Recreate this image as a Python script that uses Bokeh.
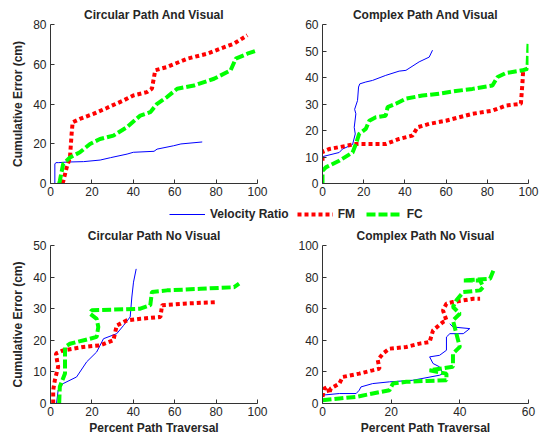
from bokeh.plotting import figure
from bokeh.layouts import column, row
from bokeh.models import FixedTicker, Legend, LegendItem, Range1d
from bokeh.embed import file_html
from bokeh.resources import INLINE

# ---------------- data ----------------
titles = ["Circular Path And Visual", "Complex Path And Visual",
          "Circular Path No Visual", "Complex Path No Visual"]
series_names = ["Velocity Ratio", "FM", "FC"]

# Circular Path And Visual
cav_vr_x = [2.1, 2.1, 2.6, 4, 8, 16, 24, 29, 37, 40, 50, 51.5, 59.5, 63, 73.3]
cav_vr_y = [0, 9.8, 10.5, 10.5, 10.8, 11.0, 11.8, 13.0, 14.8, 15.7, 16.2, 17.3, 19.0, 19.9, 20.9]
cav_fm_x = [5.8, 6.2, 7.8, 9.4, 10.2, 10.7, 14.2, 20.7, 27.2, 35.3, 40, 46.6, 49, 50.6, 56.3, 66, 75.7, 82.2, 88.7, 95.1]
cav_fm_y = [0, 1.3, 8, 13, 25, 30.8, 32.5, 35, 38, 41.8, 44.3, 46, 47.7, 57, 58.6, 62.8, 65.3, 67.9, 70.4, 74.6]
cav_fc_x = [4.2, 4.5, 6.1, 9.4, 14.2, 19.1, 23.9, 30.4, 36.9, 43.4, 48.2, 51.5, 56.3, 61.2, 69.3, 79, 87, 89.5, 95.1, 100]
cav_fc_y = [0, 1.3, 9.8, 13.1, 15.7, 19.9, 22.4, 24.1, 28.3, 34.2, 35.9, 40.1, 43.5, 47.7, 49.3, 52.7, 56.9, 62.8, 65.3, 67]

# Complex Path And Visual
xav_vr_x = [0, 0.3, 8.1, 9.7, 14.6, 15.9, 15.4, 16.2, 15.6, 17.0, 17.5, 18.1, 21, 24.3, 30.7, 37.2, 40.5, 46.9, 51.8, 53.4]
xav_vr_y = [9.6, 10.2, 11.7, 13.0, 14.7, 18.7, 21.2, 26.3, 28.0, 31.3, 36.4, 37.6, 38.3, 38.9, 40.8, 42.4, 42.7, 45.9, 47.7, 50.3]
xav_fm_x = [0, 0, 3.2, 16.2, 24.3, 30.7, 37.2, 43.7, 46.1, 51.8, 59.9, 66.3, 72.8, 82.5, 89, 96.3, 97.1, 97.4]
xav_fm_y = [8.6, 12.0, 13.0, 14.9, 14.9, 14.9, 16.8, 18.1, 21.2, 22.5, 23.7, 25.0, 26.3, 27.5, 29.4, 30.1, 38.3, 42.7]
xav_fc_x = [0, 0, 1.6, 8.1, 14.6, 16.2, 17.8, 21, 22.7, 25.9, 30.7, 31.6, 35.6, 40.5, 48.5, 56.6, 64.7, 72.8, 82.5, 85, 89, 97.1, 99.5, 100]
xav_fc_y = [0, 4.8, 6.1, 8.6, 11.7, 14.9, 18.7, 20.6, 23.7, 25.0, 25.6, 28.8, 30.1, 32.0, 33.2, 33.9, 34.9, 35.7, 37.0, 40.2, 41.7, 42.7, 43.3, 52.8]

# Circular Path No Visual
cnv_vr_x = [2.9, 3.7, 6.1, 12.6, 17.5, 22.3, 25.6, 32, 35.3, 38.5, 39.3, 40.1, 41.4]
cnv_vr_y = [0, 4.2, 6.3, 8.4, 13.2, 16.3, 20.5, 22.1, 24.7, 27.4, 33.7, 38.4, 42.6]
cnv_fm_x = [1.3, 1.3, 2.1, 3.7, 2.6, 6.1, 15.9, 23.9, 30.4, 32, 36.9, 43.4, 53.1, 53.9, 64.4, 80.6]
cnv_fm_y = [0, 4.2, 7.4, 11.6, 15.8, 16.8, 17.9, 18.4, 20.0, 24.7, 26.3, 26.8, 27.4, 31.1, 31.6, 32.1]
cnv_fc_x = [4.2, 4.5, 7.0, 7.0, 9.4, 19.1, 22.3, 23.1, 22.3, 19.1, 19.9, 30.4, 43.4, 48.2, 49.0, 56.3, 72.5, 88.7, 91.1]
cnv_fc_y = [0, 5.3, 9.5, 17.9, 18.9, 20.5, 21.1, 24.2, 26.8, 28.4, 29.5, 29.7, 30.0, 31.1, 35.3, 35.8, 36.3, 36.8, 37.9]

# Complex Path No Visual
xnv_vr_x = [0, 4.9, 9.8, 10.7, 11.2, 14.6, 19.5, 26.3, 34.1, 35.1, 34.1, 32.2, 31.2, 34.1, 36.1, 36.1, 37.1, 41, 42.9, 38, 37.1]
xnv_vr_y = [5.3, 6.3, 6.3, 8.4, 10.5, 12.6, 13.7, 14.7, 17.9, 18.9, 23.2, 25.3, 29.5, 30.5, 33.7, 42.1, 44.2, 44.2, 47.4, 48.4, 50.5]
xnv_fm_x = [0, 0.5, 1.5, 2.0, 2.4, 4.9, 5.9, 10.7, 14.6, 16.6, 16.1, 17.6, 19.5, 24.4, 28.3, 31.2, 32.2, 35.1, 36.1, 35.1, 36.1, 38, 43.9, 45.9]
xnv_fm_y = [4.2, 9.5, 10.5, 6.3, 9.5, 12.6, 16.8, 18.9, 21.0, 22.1, 27.4, 31.6, 34.7, 35.8, 37.9, 38.9, 46.3, 51.6, 52.6, 58.9, 63.2, 64.2, 66.3, 66.3]
xnv_fc_x = [0, 4.9, 9.8, 14.6, 19.5, 20.5, 24.4, 30.2, 36.1, 36.1, 31.2, 38, 38, 40, 39, 38, 40, 38, 39, 41, 45.9, 46.8, 45.9, 41, 48.8, 49.8]
xnv_fc_y = [2.1, 3.2, 4.2, 6.3, 8.4, 12.6, 13.7, 14.3, 14.7, 18.9, 21.0, 23.2, 31.6, 35.8, 44.2, 52.6, 56.8, 61.1, 65.3, 70.5, 71.6, 73.7, 77.9, 77.9, 78.9, 84.2]

FONT = "Liberation Sans"
TXT = "#262626"
AX = "#333333"

def make_panel(title, xr, yr, xticks, yticks, data, w, h, mb_top, mb_bottom, xlabel=None, ylabel=None):
    p = figure(width=w, height=h, output_backend="svg", toolbar_location=None,
               x_range=Range1d(*xr), y_range=Range1d(*yr),
               min_border_left=50, min_border_right=15,
               min_border_top=mb_top, min_border_bottom=mb_bottom)
    p.title.text = title
    p.title.align = "center"
    p.title.text_font = FONT
    p.title.text_font_size = "12px"
    p.title.text_font_style = "bold"
    p.title.text_color = TXT
    p.title.offset = 0
    p.title.standoff = 6
    p.outline_line_color = None
    p.xgrid.visible = False
    p.ygrid.visible = False
    p.background_fill_color = "white"
    p.border_fill_color = "white"
    for ax, ticks in ((p.xaxis, xticks), (p.yaxis, yticks)):
        ax.ticker = FixedTicker(ticks=ticks)
        ax.major_tick_in = 4
        ax.major_tick_out = 0
        ax.minor_tick_line_color = None
        ax.axis_line_color = AX
        ax.major_tick_line_color = AX
        ax.major_label_text_font = FONT
        ax.major_label_text_font_size = "12px"
        ax.major_label_text_color = TXT
        ax.axis_label_text_font = FONT
        ax.axis_label_text_font_size = "12px"
        ax.axis_label_text_font_style = "bold"
        ax.axis_label_text_color = TXT
    p.xaxis.major_label_standoff = 3
    p.yaxis.major_label_standoff = 4
    if xlabel:
        p.xaxis.axis_label = xlabel
        p.xaxis.axis_label_standoff = 2
    if ylabel:
        p.yaxis.axis_label = ylabel
        p.yaxis.axis_label_standoff = 5
    (vx, vy), (mx, my), (cx, cy) = data
    p.line(vx, vy, line_color="#0000FF", line_width=1)
    p.line(mx, my, line_color="#FF0000", line_width=4, line_dash="4 3")
    p.line(cx, cy, line_color="#00FF00", line_width=4, line_dash="9 3")
    return p

p1 = make_panel(titles[0], (0, 100), (0, 80), [0, 20, 40, 60, 80, 100], [0, 20, 40, 60, 80],
                [(cav_vr_x, cav_vr_y), (cav_fm_x, cav_fm_y), (cav_fc_x, cav_fc_y)],
                272, 200, 24, 17, ylabel="Cumulative Error (cm)")
p2 = make_panel(titles[1], (0, 100), (0, 60), [0, 20, 40, 60, 80, 100], [0, 10, 20, 30, 40, 50, 60],
                [(xav_vr_x, xav_vr_y), (xav_fm_x, xav_fm_y), (xav_fc_x, xav_fc_y)],
                271, 200, 24, 17)
p3 = make_panel(titles[2], (0, 100), (0, 50), [0, 20, 40, 60, 80, 100], [0, 10, 20, 30, 40, 50],
                [(cnv_vr_x, cnv_vr_y), (cnv_fm_x, cnv_fm_y), (cnv_fc_x, cnv_fc_y)],
                272, 219, 23, 38, xlabel="Percent Path Traversal", ylabel="Cumulative Error (cm)")
p4 = make_panel(titles[3], (0, 60), (0, 100), [0, 20, 40, 60], [0, 20, 40, 60, 80, 100],
                [(xnv_vr_x, xnv_vr_y), (xnv_fm_x, xnv_fm_y), (xnv_fc_x, xnv_fc_y)],
                271, 219, 23, 38, xlabel="Percent Path Traversal")

# legend strip
leg = figure(width=543, height=22, output_backend="svg", toolbar_location=None,
             x_range=Range1d(0, 1), y_range=Range1d(0, 1),
             min_border=0, min_border_left=0, min_border_right=0, min_border_top=0, min_border_bottom=0)
leg.axis.visible = False
leg.xgrid.visible = False
leg.ygrid.visible = False
leg.outline_line_color = None
r1 = leg.line([-2, -1], [-2, -2], line_color="#0000FF", line_width=1)
r2 = leg.line([-2, -1], [-2, -2], line_color="#FF0000", line_width=4, line_dash="4 3")
r3 = leg.line([-2, -1], [-2, -2], line_color="#00FF00", line_width=4, line_dash="9 3")
legend = Legend(items=[LegendItem(label=series_names[0], renderers=[r1]),
                       LegendItem(label=series_names[1], renderers=[r2]),
                       LegendItem(label=series_names[2], renderers=[r3])],
                orientation="horizontal", location=(169, 1),
                border_line_color=None, background_fill_alpha=0,
                glyph_width=36, glyph_height=14, label_standoff=5, spacing=8,
                padding=4, margin=0,
                label_text_font=FONT, label_text_font_size="12px",
                label_text_font_style="bold", label_text_color=TXT)
leg.add_layout(legend)

layout = column(row(p1, p2), leg, row(p3, p4))
open("out.html", "w").write(file_html(layout, INLINE))
